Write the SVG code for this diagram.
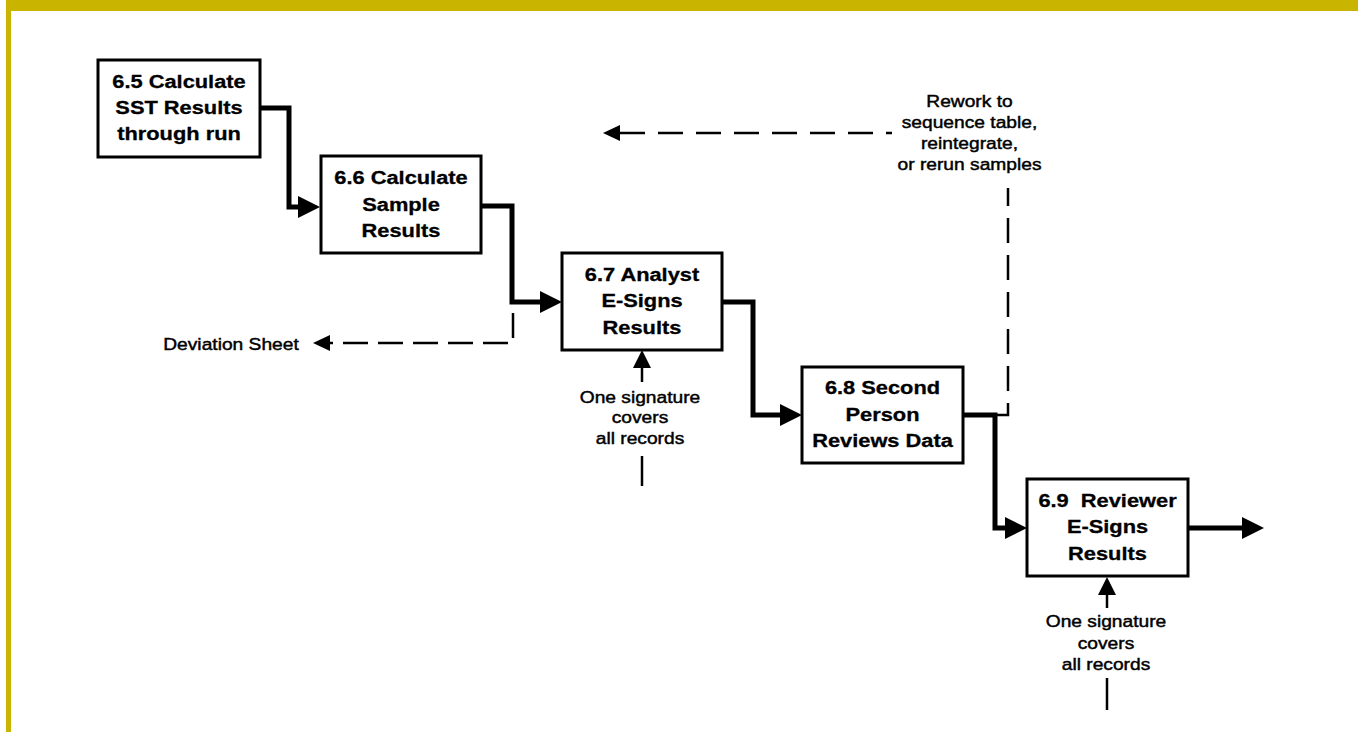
<svg xmlns="http://www.w3.org/2000/svg" width="1358" height="732" viewBox="0 0 1358 732">
<style>
.box{fill:#fff;stroke:#000;stroke-width:3}
.lbl{font-family:"Liberation Sans",Arial,sans-serif;font-weight:bold;font-size:18.5px;fill:#000;stroke:#000;stroke-width:0.3;text-anchor:middle}
.ann{font-family:"Liberation Sans",Arial,sans-serif;font-size:17px;fill:#000;stroke:#000;stroke-width:0.45;text-anchor:middle}
.flow{fill:none;stroke:#000;stroke-width:5;stroke-linejoin:miter}
.thin{fill:none;stroke:#000;stroke-width:2.5}
.dash{fill:none;stroke:#000;stroke-width:2.5}
.head{fill:#000}
</style>
<rect x="0" y="0" width="1358" height="732" fill="#fff"/>
<rect x="6" y="0" width="1352" height="11" fill="#C9B400"/>
<rect x="6" y="0" width="5" height="732" fill="#C9B400"/>

<g id="connectors">
  <path class="flow" d="M260,108 H289 V207 H300"/>
  <polygon class="head" points="298,196 320,207 298,218"/>
  <path class="flow" d="M481,206 H512 V302 H542"/>
  <polygon class="head" points="540,291 562,302 540,313"/>
  <path class="flow" d="M722,302 H753 V415 H782"/>
  <polygon class="head" points="780,404 802,415 780,426"/>
  <path class="flow" d="M963,415 H995 V528 H1007"/>
  <polygon class="head" points="1005,517 1027,528 1005,539"/>
  <path class="flow" d="M1188,528 H1245"/>
  <polygon class="head" points="1242,517 1264,528 1242,539"/>
  <path class="dash" d="M995,415 H1008 V188" stroke-dasharray="25 12"/>
  <path class="dash" d="M513,313 V343 H330" stroke-dasharray="25 10"/>
  <polygon class="head" points="313,343 330,335 330,351"/>
  <path class="dash" d="M620,133 H892" stroke-dasharray="25 13"/>
  <polygon class="head" points="603,133 620,125 620,141"/>
  <path class="thin" d="M642,382 V365"/>
  <polygon class="head" points="642,350 633,368 651,368"/>
  <path class="thin" d="M642,456 V486"/>
  <path class="thin" d="M1107,608 V592"/>
  <polygon class="head" points="1107,577 1098,595 1116,595"/>
  <path class="thin" d="M1107,678 V710"/>
</g>

<g id="n65">
  <rect class="box" x="98" y="60" width="162" height="97"/>
  <text class="lbl" transform="translate(179,88) scale(1.18,1)">6.5 Calculate</text>
  <text class="lbl" transform="translate(179,114) scale(1.18,1)">SST Results</text>
  <text class="lbl" transform="translate(179,140) scale(1.18,1)">through run</text>
</g>
<g id="n66">
  <rect class="box" x="321" y="156" width="160" height="97"/>
  <text class="lbl" transform="translate(401,184) scale(1.18,1)">6.6 Calculate</text>
  <text class="lbl" transform="translate(401,210.5) scale(1.18,1)">Sample</text>
  <text class="lbl" transform="translate(401,237) scale(1.18,1)">Results</text>
</g>
<g id="n67">
  <rect class="box" x="562" y="253" width="160" height="97"/>
  <text class="lbl" transform="translate(642,280.5) scale(1.18,1)">6.7 Analyst</text>
  <text class="lbl" transform="translate(642,307) scale(1.18,1)">E-Signs</text>
  <text class="lbl" transform="translate(642,334) scale(1.18,1)">Results</text>
</g>
<g id="n68">
  <rect class="box" x="802" y="367" width="161" height="96"/>
  <text class="lbl" transform="translate(882.5,394) scale(1.18,1)">6.8 Second</text>
  <text class="lbl" transform="translate(882.5,420.5) scale(1.18,1)">Person</text>
  <text class="lbl" transform="translate(882.5,447) scale(1.18,1)">Reviews Data</text>
</g>
<g id="n69">
  <rect class="box" x="1027" y="479" width="161" height="97"/>
  <text class="lbl" transform="translate(1107.5,506.5) scale(1.18,1)">6.9&#160; Reviewer</text>
  <text class="lbl" transform="translate(1107.5,533) scale(1.18,1)">E-Signs</text>
  <text class="lbl" transform="translate(1107.5,560) scale(1.18,1)">Results</text>
</g>

<g id="deviation">
  <text class="ann" transform="translate(231,350) scale(1.13,1)">Deviation Sheet</text>
</g>
<g id="rework">
  <text class="ann" transform="translate(969.5,106.5) scale(1.13,1)">Rework to</text>
  <text class="ann" transform="translate(969.5,127.5) scale(1.13,1)">sequence table,</text>
  <text class="ann" transform="translate(969.5,148.5) scale(1.13,1)">reintegrate,</text>
  <text class="ann" transform="translate(969.5,170) scale(1.13,1)">or rerun samples</text>
</g>
<g id="sig67">
  <text class="ann" transform="translate(640,402.5) scale(1.13,1)">One signature</text>
  <text class="ann" transform="translate(640,423) scale(1.13,1)">covers</text>
  <text class="ann" transform="translate(640,443.5) scale(1.13,1)">all records</text>
</g>
<g id="sig69">
  <text class="ann" transform="translate(1106,627) scale(1.13,1)">One signature</text>
  <text class="ann" transform="translate(1106,648.5) scale(1.13,1)">covers</text>
  <text class="ann" transform="translate(1106,670) scale(1.13,1)">all records</text>
</g>
</svg>
